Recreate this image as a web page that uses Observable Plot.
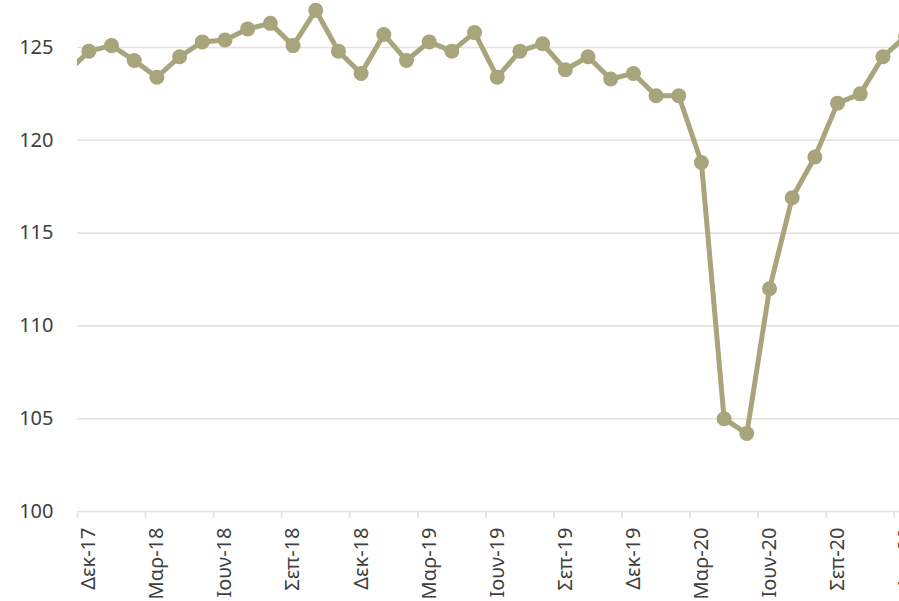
<!DOCTYPE html>
<html>
<head>
<meta charset="utf-8">
<script src="https://cdn.jsdelivr.net/npm/d3@7"></script>
<script src="https://cdn.jsdelivr.net/npm/@observablehq/plot@0.6"></script>
<style>
  html, body { margin: 0; padding: 0; background: #ffffff; }
  #chart { width: 899px; height: 601px; overflow: hidden; }
</style>
</head>
<body>
<div id="chart"></div>
<script>
// Monthly categories (first and last only partly visible)
const months = [
  "Νοε-17","Δεκ-17",
  "Ιαν-18","Φεβ-18","Μαρ-18","Απρ-18","Μαϊ-18","Ιουν-18","Ιουλ-18","Αυγ-18","Σεπ-18","Οκτ-18","Νοε-18","Δεκ-18",
  "Ιαν-19","Φεβ-19","Μαρ-19","Απρ-19","Μαϊ-19","Ιουν-19","Ιουλ-19","Αυγ-19","Σεπ-19","Οκτ-19","Νοε-19","Δεκ-19",
  "Ιαν-20","Φεβ-20","Μαρ-20","Απρ-20","Μαϊ-20","Ιουν-20","Ιουλ-20","Αυγ-20","Σεπ-20","Οκτ-20","Νοε-20","Δεκ-20"
];
const values = [
  123.6, 124.8,
  125.1, 124.3, 123.4, 124.5, 125.3, 125.4, 126.0, 126.3, 125.1, 127.0, 124.8, 123.6,
  125.7, 124.3, 125.3, 124.8, 125.8, 123.4, 124.8, 125.2, 123.8, 124.5, 123.3, 123.6,
  122.4, 122.4, 118.8, 105.0, 104.2, 112.0, 116.9, 119.1, 122.0, 122.5, 124.5, 125.6
];
const yTicks = [100, 105, 110, 115, 120, 125];
const labelEvery = 3; // every third month is labelled (Δεκ, Μαρ, Ιουν, Σεπ)

const data = months.map((m, i) => ({month: m, idx: i - 1, value: values[i]}));
const labelled = data.filter(d => d.idx >= 0 && d.idx % labelEvery === 0);
const boundaries = labelled.map(d => d.idx - 0.5);

const lineColor = "#a8a47b";
const gridColor = "#e6e2da";
const textColor = "#404040";

const chart = Plot.plot({
  width: 899,
  height: 601,
  marginLeft: 77,
  marginRight: 0,
  marginTop: 0,
  marginBottom: 90,
  style: {fontFamily: "'Noto Sans', sans-serif", fontSize: "20px", color: textColor, background: "#ffffff"},
  x: {type: "linear", domain: [-0.5, 35.73], axis: null},
  y: {domain: [100, 127.53], label: null},
  marks: [
    Plot.ruleY(yTicks, {stroke: gridColor, strokeWidth: 1.6}),
    Plot.ruleX(boundaries, {x: d => d, y1: 100, y2: 100, insetBottom: -7, stroke: gridColor, strokeWidth: 1.6}),
    Plot.axisY({ticks: yTicks, tickSize: 0, tickPadding: 24, fontSize: 20, fill: textColor, label: null}),
    Plot.text(labelled, {
      x: "idx", frameAnchor: "bottom", text: "month", rotate: -90,
      textAnchor: "end", lineAnchor: "middle", dy: 16, fill: textColor, fontSize: 20
    }),
    Plot.line(data, {x: "idx", y: "value", stroke: lineColor, strokeWidth: 5, clip: true}),
    Plot.dot(data, {x: "idx", y: "value", r: 7.5, fill: lineColor, stroke: "none", clip: true})
  ]
});
document.getElementById("chart").appendChild(chart);
</script>
</body>
</html>
